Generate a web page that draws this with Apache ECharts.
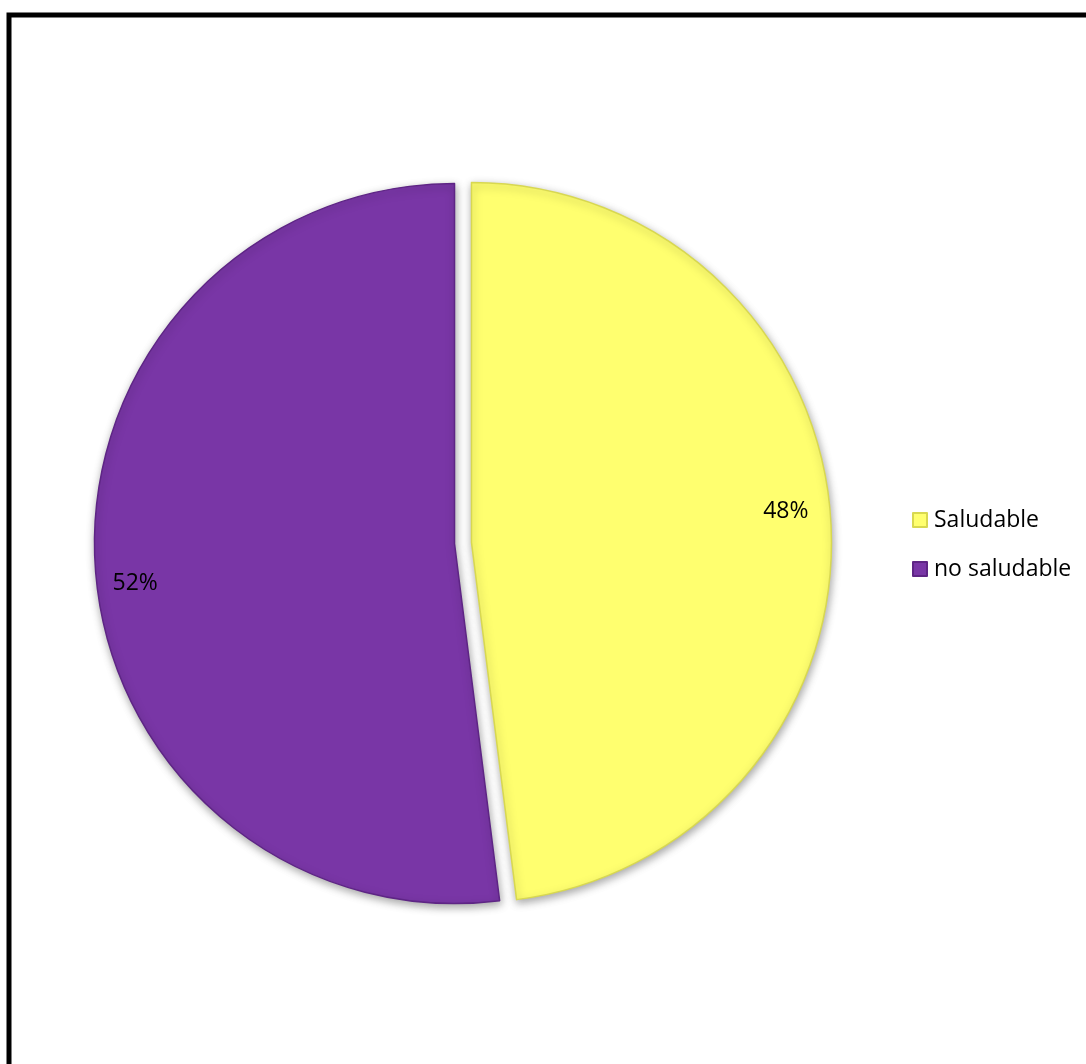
<!DOCTYPE html>
<html>
<head>
<meta charset="utf-8">
<script src="https://cdn.jsdelivr.net/npm/echarts@6/dist/echarts.min.js"></script>
<style>
html,body{margin:0;padding:0;background:#fff;}
#chart{width:1086px;height:1064px;}
</style>
</head>
<body>
<div id="chart"></div>
<script>
const categories = ['Saludable', 'no saludable'];
const values = [48, 52];
const colors = ['#FFFF6F', '#7936A6'];
const borderColors = ['#D8D850', '#5E2585'];

const chart = echarts.init(document.getElementById('chart'), null, {renderer: 'canvas'});

const mainData = categories.map((name, i) => ({
  name: name,
  value: values[i],
  selected: true,
  itemStyle: {color: colors[i], borderColor: borderColors[i]}
}));
const labelData = categories.map((name, i) => ({
  name: name,
  value: values[i],
  selected: true
}));
// small label nudges to mimic the reference placement
const labelNudge = [[-7, -11], [2, 20]];

chart.setOption({
  animation: false,
  backgroundColor: '#ffffff',
  graphic: [{
    type: 'rect',
    shape: {x: 9, y: 15, width: 1200, height: 1200},
    style: {fill: 'none', stroke: '#000000', lineWidth: 5},
    z: 100
  }],
  legend: {
    orient: 'vertical',
    left: 912,
    top: 508,
    padding: 0,
    itemWidth: 14,
    itemHeight: 14,
    itemGap: 25,
    icon: 'rect',
    data: categories,
    textStyle: {fontFamily: 'Open Sans', fontSize: 23, lineHeight: 24, color: '#000000', padding: [0, 0, 0, 2]}
  },
  series: [{
    type: 'pie',
    center: [463, 543],
    radius: [0, 360],
    startAngle: 90,
    clockwise: true,
    selectedMode: 'multiple',
    selectedOffset: 8.5,
    avoidLabelOverlap: false,
    label: {show: false},
    labelLine: {show: false},
    itemStyle: {
      borderWidth: 1.5,
      shadowBlur: 8,
      shadowColor: 'rgba(0,0,0,0.35)',
      shadowOffsetX: 1,
      shadowOffsetY: 3
    },
    emphasis: {disabled: true},
    data: mainData
  }, {
    type: 'pie',
    center: [463, 543],
    radius: [278, 360],
    startAngle: 90,
    clockwise: true,
    selectedMode: 'multiple',
    selectedOffset: 8.5,
    silent: true,
    avoidLabelOverlap: false,
    itemStyle: {color: 'rgba(0,0,0,0)', borderWidth: 0},
    label: {
      show: true,
      position: 'inside',
      formatter: '{d}%',
      fontFamily: 'Open Sans',
      fontSize: 23,
      color: '#000000'
    },
    labelLayout: function (params) {
      const n = labelNudge[params.dataIndex] || [0, 0];
      return {dx: n[0], dy: n[1]};
    },
    labelLine: {show: false},
    emphasis: {disabled: true},
    data: labelData
  }]
});
</script>
</body>
</html>
